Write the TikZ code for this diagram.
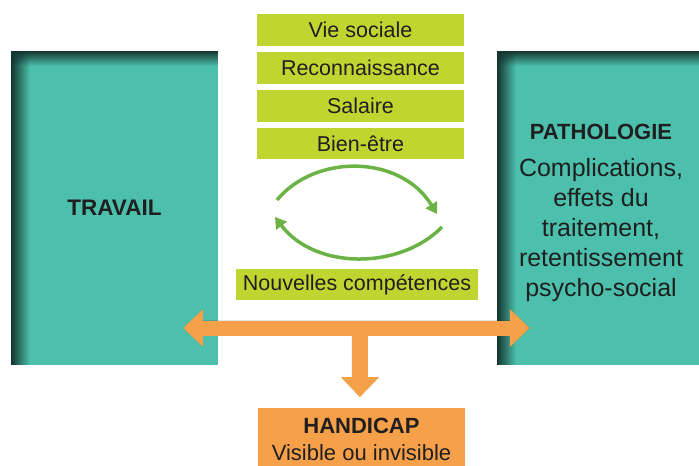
\documentclass[tikz,border=0pt]{standalone}
\usepackage{fontspec}
\setmainfont{Liberation Sans}
\usepackage{xcolor}
\definecolor{colorWork}{RGB}{76,192,172}
\definecolor{colorWorkShadow}{RGB}{20,52,46}
\definecolor{colorGain}{RGB}{192,214,48}
\definecolor{colorLoop}{RGB}{106,179,68}
\definecolor{colorImpact}{RGB}{247,160,74}
\colorlet{colorText}{black!88}
\usepackage{tikz}
\usetikzlibrary{arrows.meta, positioning, calc, fadings}
\tikzfading[name=fadeDown, top color=transparent!0, bottom color=transparent!100]
\tikzfading[name=fadeRight, left color=transparent!0, right color=transparent!100]
\tikzset{
  bighead/.tip={Triangle[width=37pt,length=20pt]},
  pillar/.style={fill=colorWork, text=colorText, minimum width=207pt, minimum height=314pt, inner sep=0pt, align=center},
  gain/.style={fill=colorGain, text=colorText, minimum width=207pt, minimum height=31.5pt, inner sep=0pt, font=\fontsize{21.5}{25}\selectfont},
  loop/.style={colorLoop, line width=3.5pt, -{Triangle[width=13pt,length=11pt]}},
  impact/.style={colorImpact, line width=15pt},
  impactShadow/.style={black, line width=15pt}
}

\begin{document}
\begin{tikzpicture}[x=1pt, y=-1pt, node distance=6pt]
\useasboundingbox (0,0) rectangle (699,466);
\node[pillar] (travail) at (114.5,208) {\bfseries\fontsize{22.5}{26}\selectfont TRAVAIL};
\node[pillar, minimum width=202pt] (patho) at (598,208) {};
\foreach \pil in {travail, patho} {
  \fill[colorWorkShadow, path fading=fadeRight] (\pil.north west) rectangle ($(\pil.south west)+(19,0)$);
  \fill[colorWorkShadow, path fading=fadeDown] (\pil.north west) rectangle ($(\pil.north east)+(0,15)$);
}
\node[align=center, text=colorText, font=\fontsize{25}{30}\selectfont] (pathoText) at ($(patho.center)+(3,5)$) {{\bfseries\fontsize{22}{30}\selectfont PATHOLOGIE}\\[7pt]Complications,\\effets du\\traitement,\\retentissement\\psycho-social};
\node[gain] (vie) at (360.5,30) {Vie sociale};
\node[gain, below=of vie] (reco) {Reconnaissance};
\node[gain, below=of reco] (salaire) {Salaire};
\node[gain, below=of salaire] (bienetre) {Bien-être};
\node[gain, minimum width=242pt] (skills) at (357,284.5) {Nouvelles compétences};
\draw[loop] (277,200) .. controls (315,154) and (400,154) .. (437,214);
\draw[loop] (442,227) .. controls (400,270) and (315,270) .. (275,217);
\node[fill=colorImpact, text=colorText, minimum width=207pt, minimum height=62pt, anchor=north, align=center, inner sep=0pt, font=\fontsize{22}{27}\selectfont] (handicap) at (361.5,408) {{\bfseries HANDICAP}\\Visible ou invisible};
\coordinate (leftTip) at ($(travail.east)+(-35,120)$);
\coordinate (rightTip) at ($(patho.west)+(33,120)$);
\coordinate (fork) at ($(leftTip)!0.51!(rightTip)$);
\coordinate (downTip) at ($(handicap.north)+(0,-11)$);
\begin{scope}[transparency group, opacity=.3, shift={(3,4)}]
\draw[impactShadow, bighead-bighead] (leftTip) -- (rightTip);
\draw[impactShadow, line width=16pt, -bighead] (fork) -- (fork |- downTip);
\end{scope}
\draw[impact, bighead-bighead] (leftTip) -- (rightTip);
\draw[impact, line width=16pt, -bighead] (fork) -- (fork |- downTip);
\end{tikzpicture}
\end{document}
